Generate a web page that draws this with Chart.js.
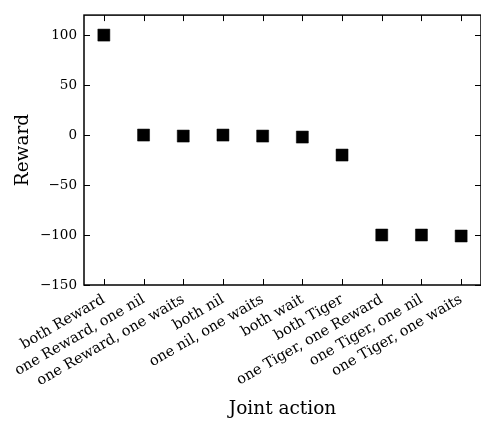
<!DOCTYPE html>
<html>
<head>
<meta charset="utf-8">
<script src="https://cdn.jsdelivr.net/npm/chart.js@4"></script>
<style>
  html, body { margin: 0; padding: 0; background: #fff; overflow: hidden; }
  #wrap { width: 481px; height: 421px; }
</style>
</head>
<body>
<div id="wrap"><canvas id="chart" width="481" height="421"></canvas></div>
<script>
// joint actions and their rewards
const jointActions = [
    'both Reward',
    'one Reward, one nil',
    'one Reward, one waits',
    'both nil',
    'one nil, one waits',
    'both wait',
    'both Tiger',
    'one Tiger, one Reward',
    'one Tiger, one nil',
    'one Tiger, one waits'
];
const rewards = [100, 0, -1, 0, -1, -2, -20, -100, -100, -101];
const yTicks = [-150, -100, -50, 0, 50, 100];

const SERIF = '"DejaVu Serif", "Liberation Serif", serif';

// frame + inward tick marks on all four sides, like matplotlib's boxed axes
const frameTicks = {
    id: 'frameTicks',
    afterDraw(chart) {
        const { ctx, chartArea: a } = chart;
        const xs = chart.scales.x, ys = chart.scales.y;
        const len = 6;
        ctx.save();
        ctx.strokeStyle = '#000';
        ctx.lineWidth = 1.5;
        ctx.strokeRect(a.left, a.top, a.right - a.left, a.bottom - a.top);
        ctx.lineWidth = 1;
        ctx.beginPath();
        xs.ticks.forEach((t, i) => {
            const px = Math.round(xs.getPixelForTick(i)) + 0.5;
            ctx.moveTo(px, a.bottom); ctx.lineTo(px, a.bottom - len);
            ctx.moveTo(px, a.top); ctx.lineTo(px, a.top + len);
        });
        yTicks.forEach(v => {
            const py = Math.round(ys.getPixelForValue(v)) + 0.5;
            ctx.moveTo(a.left, py); ctx.lineTo(a.left + len, py);
            ctx.moveTo(a.right, py); ctx.lineTo(a.right - len, py);
        });
        ctx.stroke();
        ctx.restore();
    }
};

new Chart(document.getElementById('chart'), {
    type: 'line',
    data: {
        labels: jointActions,
        datasets: [{
            label: 'Reward',
            data: rewards,
            showLine: false,
            pointStyle: 'rect',
            pointRadius: 8.5,
            pointHoverRadius: 8.5,
            backgroundColor: '#000',
            borderColor: '#000',
            borderWidth: 0.5
        }]
    },
    options: {
        responsive: false,
        animation: false,
        layout: { autoPadding: false, padding: { top: 13, right: 0, bottom: 0, left: 0 } },
        plugins: {
            legend: { display: false },
            tooltip: { enabled: false }
        },
        scales: {
            x: {
                type: 'category',
                offset: true,
                grid: { display: false, drawTicks: false },
                border: { display: false },
                ticks: {
                    autoSkip: false,
                    maxRotation: 30,
                    minRotation: 30,
                    padding: 6,
                    color: '#000',
                    font: { family: SERIF, size: 14.5 }
                },
                title: {
                    display: true,
                    text: 'Joint action',
                    color: '#000',
                    font: { family: SERIF, size: 18.5, lineHeight: 1 },
                    padding: { top: 0, bottom: 3 }
                },
                afterFit(scale) {
                    scale.height = 136;
                    scale.paddingLeft = 0;
                    scale.paddingRight = 0;
                }
            },
            y: {
                min: -150,
                max: 120,
                grid: { display: false, drawTicks: false },
                border: { display: false },
                afterBuildTicks(scale) {
                    scale.ticks = yTicks.map(v => ({ value: v }));
                },
                ticks: {
                    padding: 7,
                    color: '#000',
                    font: { family: SERIF, size: 13.5 },
                    callback: v => String(v).replace('-', '\u2212')
                },
                title: {
                    display: true,
                    text: 'Reward',
                    color: '#000',
                    font: { family: SERIF, size: 18.5, lineHeight: 1 },
                    padding: { top: 14, bottom: 0 }
                },
                afterFit(scale) { scale.width = 84; }
            }
        }
    },
    plugins: [frameTicks]
});
</script>
</body>
</html>
